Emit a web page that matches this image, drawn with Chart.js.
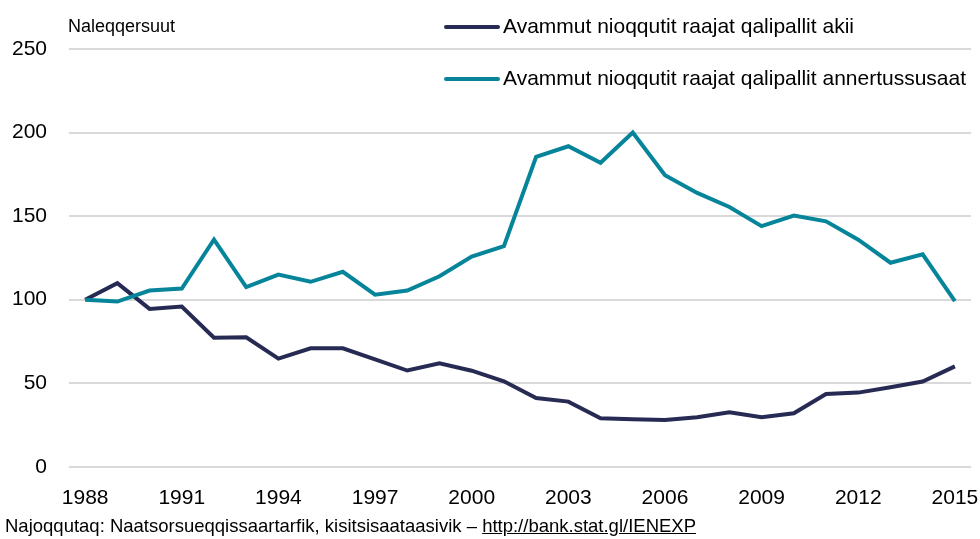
<!DOCTYPE html>
<html>
<head>
<meta charset="utf-8">
<script src="https://cdn.jsdelivr.net/npm/chart.js@4"></script>
<style>
    body { margin: 0; background: #ffffff; }
    #wrap { position: relative; width: 980px; height: 539px; font-family: "Liberation Sans", Arial, sans-serif; color: #000000; }
    #ytitle { position: absolute; left: 68px; top: 17px; font-size: 18px; line-height: 18px; }
    #source { position: absolute; left: 5px; top: 517px; font-size: 18.5px; line-height: 18px; white-space: nowrap; }
    #source a { color: #000000; text-decoration: underline; }
</style>
</head>
<body>
<div id="wrap">
    <canvas id="myChart" width="980" height="539"></canvas>
    <div id="ytitle">Naleqqersuut</div>
    <div id="source">Najoqqutaq: Naatsorsueqqissaartarfik, kisitsisaataasivik – <a href="http://bank.stat.gl/IENEXP">http://bank.stat.gl/IENEXP</a></div>
</div>
<script>
var years = ['1988', '1989', '1990', '1991', '1992', '1993', '1994', '1995', '1996', '1997',
    '1998', '1999', '2000', '2001', '2002', '2003', '2004', '2005', '2006', '2007',
    '2008', '2009', '2010', '2011', '2012', '2013', '2014', '2015'];

// akii (prices)
var akii = [100, 109.9, 94.5, 95.9, 77.2, 77.5, 64.7, 70.9, 70.9, 64.3,
    57.6, 61.9, 57.5, 51.2, 41.2, 39, 29, 28.4, 28, 29.6,
    32.6, 29.6, 32, 43.6, 44.4, 47.6, 51, 60.1];

// annertussusaat (volumes)
var annertussusaat = [100, 98.9, 105.5, 106.7, 136, 107.5, 115, 110.7, 116.7, 103,
    105.5, 114, 125.8, 132, 185.5, 191.8, 181.9, 200, 174.5, 163.9,
    155.5, 144, 150.3, 146.9, 135.9, 122.1, 127.1, 99.1];

var seriesLabels = ['Avammut nioqqutit raajat qalipallit akii', 'Avammut nioqqutit raajat qalipallit annertussusaat'];
var yTicks = [0, 50, 100, 150, 200, 250];

var fontFamily = '"Liberation Sans", Arial, sans-serif';

// legend drawn inside the plot, stacked
const insideLegend = {
    id: 'insideLegend',
    afterDraw: function (chart) {
        const ctx = chart.ctx;
        ctx.save();
        chart.data.datasets.forEach(function (ds, i) {
            let y = 27 + i * 52;
            ctx.strokeStyle = ds.borderColor;
            ctx.lineWidth = 4;
            ctx.lineCap = 'round';
            ctx.beginPath();
            ctx.moveTo(446, y);
            ctx.lineTo(498, y);
            ctx.stroke();
            ctx.fillStyle = '#000000';
            ctx.font = '21px ' + fontFamily;
            ctx.textBaseline = 'middle';
            ctx.textAlign = 'left';
            ctx.fillText(ds.label, 503, y);
        });
        ctx.restore();
    }
};

const ctx = document.getElementById('myChart').getContext('2d');
const myChart = new Chart(ctx, {
    type: 'line',
    data: {
        labels: years,
        datasets: [
            {
                label: seriesLabels[0],
                data: akii,
                borderColor: '#272b54',
                backgroundColor: '#272b54',
                borderWidth: 4,
                pointRadius: 0,
                tension: 0,
                order: 1,
            },
            {
                label: seriesLabels[1],
                data: annertussusaat,
                borderColor: '#06859a',
                backgroundColor: '#06859a',
                borderWidth: 4,
                pointRadius: 0,
                tension: 0,
                order: 0,
            }
        ]
    },
    plugins: [insideLegend],
    options: {
        responsive: false,
        animation: false,
        layout: {
            autoPadding: false,
            padding: { top: 49, left: -10, right: 9, bottom: 9 }
        },
        plugins: {
            legend: { display: false },
            tooltip: { enabled: false },
        },
        scales: {
            x: {
                offset: true,
                border: { display: false },
                grid: { display: false, drawTicks: false },
                afterFit: function (axis) {
                    // the year labels may overhang the plot edge
                    axis.paddingLeft = 0;
                    axis.paddingRight = 0;
                },
                ticks: {
                    autoSkip: false,
                    maxRotation: 0,
                    padding: 19,
                    color: '#000000',
                    font: { family: fontFamily, size: 21 },
                    callback: function (value, index) {
                        return index % 3 == 0 ? years[index] : '';
                    }
                }
            },
            y: {
                min: yTicks[0],
                max: yTicks[yTicks.length - 1],
                border: { display: false },
                grid: {
                    color: '#d9d9d9',
                    lineWidth: 2,
                    drawTicks: false,
                },
                afterBuildTicks: function (axis) {
                    axis.ticks = yTicks.map(function (v) { return { value: v }; });
                },
                ticks: {
                    padding: 22,
                    color: '#000000',
                    font: { family: fontFamily, size: 21 },
                }
            }
        }
    }
});
</script>
</body>
</html>
